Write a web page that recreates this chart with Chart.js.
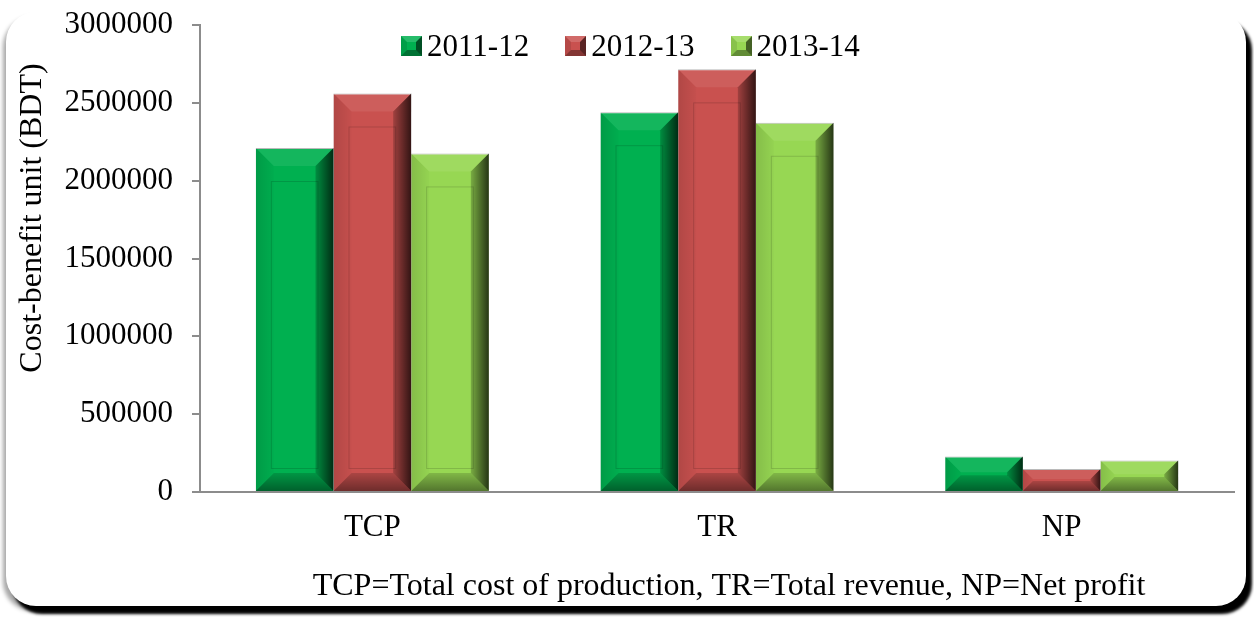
<!DOCTYPE html>
<html>
<head>
<meta charset="utf-8">
<script src="https://cdn.jsdelivr.net/npm/chart.js@4"></script>
<style>
  html, body { margin: 0; padding: 0; background: #fff; }
  body { width: 1254px; height: 618px; position: relative; overflow: hidden; font-family: "Liberation Serif", "Times New Roman", serif; }
  #frame {
    position: absolute; left: 6px; top: 12px; width: 1240px; height: 594px;
    background: #fff; border-radius: 30px;
    box-shadow: -3px 5px 4px rgba(0,0,0,0.35), 6px 8px 3px #000;
  }
  #wrap { position: absolute; left: 0; top: 0; width: 1254px; height: 618px; }
  #legend {
    position: absolute; left: 401px; top: 28px; display: flex; gap: 36px;
    font-size: 31px; line-height: 36px; color: #000;
  }
  .item { display: flex; align-items: center; gap: 5px; }
  .box { width: 9px; height: 8px; border-style: solid; border-width: 6px; }
</style>
</head>
<body>
<div id="frame"></div>
<div id="wrap"><canvas id="chart" width="1254" height="618"></canvas></div>
<div id="legend"></div>
<script>
const categories = ['TCP', 'TR', 'NP'];
const seriesLabels = ['2011-12', '2012-13', '2013-14'];
const values2011 = [2210000, 2440000, 228000];
const values2012 = [2560000, 2715000, 148000];
const values2013 = [2175000, 2372000, 203000];
const seriesColors = ['#00b050', '#c9514f', '#97d753'];
const yMax = 3000000;
const yStep = 500000;
const yTitle = 'Cost-benefit unit (BDT)';
const footNote = 'TCP=Total cost of production, TR=Total revenue, NP=Net profit';

const FONT = '"Liberation Serif", "Times New Roman", serif';

/* ── shade a hex colour ── */
function shade(hex, f) {
  const n = parseInt(hex.slice(1), 16);
  let r = (n >> 16) & 255, g = (n >> 8) & 255, b = n & 255;
  if (f < 0) { r *= 1 + f; g *= 1 + f; b *= 1 + f; }
  else { r += (255 - r) * f; g += (255 - g) * f; b += (255 - b) * f; }
  return 'rgb(' + Math.round(r) + ',' + Math.round(g) + ',' + Math.round(b) + ')';
}

/* ── bevel look on top of each bar ── */
const bevelPlugin = {
  id: 'bevel',
  afterDatasetsDraw(chart) {
    const ctx = chart.ctx;
    chart.data.datasets.forEach((ds, i) => {
      const meta = chart.getDatasetMeta(i);
      meta.data.forEach(bar => {
        const l = bar.x - bar.width / 2, r = bar.x + bar.width / 2;
        const t = bar.y, bt = bar.base;
        const h = bt - t;
        const b = Math.min(18, h / 2.2);
        const poly = (pts, fill) => {
          ctx.beginPath();
          ctx.moveTo(pts[0][0], pts[0][1]);
          for (let k = 1; k < pts.length; k++) ctx.lineTo(pts[k][0], pts[k][1]);
          ctx.closePath();
          ctx.fillStyle = fill;
          ctx.fill();
        };
        ctx.save();
        // top
        poly([[l, t], [r, t], [r - b, t + b], [l + b, t + b]], 'rgba(255,255,255,0.08)');
        // left
        const gl = ctx.createLinearGradient(l, 0, l + b, 0);
        gl.addColorStop(0, 'rgba(0,0,0,0.12)');
        gl.addColorStop(1, 'rgba(0,0,0,0.02)');
        poly([[l, t], [l + b, t + b], [l + b, bt - b], [l, bt]], gl);
        // right
        const gr = ctx.createLinearGradient(r - b, 0, r, 0);
        gr.addColorStop(0, 'rgba(0,0,0,0.2)');
        gr.addColorStop(1, 'rgba(0,0,0,0.75)');
        poly([[r, t], [r, bt], [r - b, bt - b], [r - b, t + b]], gr);
        // bottom
        const gb = ctx.createLinearGradient(0, bt - b, 0, bt);
        gb.addColorStop(0, 'rgba(0,0,0,0.15)');
        gb.addColorStop(1, 'rgba(0,0,0,0.45)');
        poly([[l, bt], [r, bt], [r - b, bt - b], [l + b, bt - b]], gb);
        // faint inner panel lines
        if (h > 80) {
          ctx.strokeStyle = 'rgba(0,0,0,0.14)';
          ctx.lineWidth = 1;
          ctx.strokeRect(l + 15.5, t + 33.5, bar.width - 31, h - 56);
        }
        ctx.restore();
      });
    });
  }
};

/* ── axis title and foot note, placed like the original ── */
const textPlugin = {
  id: 'texts',
  afterDraw(chart) {
    const ctx = chart.ctx;
    ctx.save();
    ctx.fillStyle = '#000';
    ctx.font = '32px ' + FONT;
    ctx.textAlign = 'center';
    ctx.textBaseline = 'middle';
    ctx.translate(33, 218);
    ctx.rotate(-Math.PI / 2);
    ctx.fillText(yTitle, 0, 0);
    ctx.restore();

    ctx.save();
    ctx.fillStyle = '#000';
    ctx.font = '32px ' + FONT;
    ctx.textAlign = 'center';
    ctx.textBaseline = 'middle';
    ctx.fillText(footNote, 729, 587);
    ctx.restore();
  }
};

const seriesValues = [values2011, values2012, values2013];

const chart = new Chart(document.getElementById('chart'), {
  type: 'bar',
  data: {
    labels: categories,
    datasets: seriesLabels.map((lab, i) => ({
      label: lab,
      data: seriesValues[i],
      backgroundColor: seriesColors[i],
      borderColor: 'rgba(150,150,150,0.7)',
      borderWidth: { top: 1, left: 0, right: 0, bottom: 0 },
      categoryPercentage: 0.676,
      barPercentage: 1
    }))
  },
  options: {
    responsive: false,
    animation: false,
    layout: { padding: { top: 25, right: 20, bottom: 0, left: 0 } },
    plugins: {
      legend: { display: false },
      tooltip: { enabled: false }
    },
    scales: {
      x: {
        grid: { display: false, drawTicks: false },
        border: { display: true, color: '#8c8c8c', width: 2 },
        ticks: { color: '#000', font: { family: FONT, size: 31 }, padding: 17 },
        afterFit: s => { s.height = 126; s.paddingLeft = 0; s.paddingRight = 0; }
      },
      y: {
        min: 0,
        max: yMax,
        ticks: {
          stepSize: yStep, color: '#000', font: { family: FONT, size: 31 }, padding: 19,
          callback: v => String(v)
        },
        grid: { drawOnChartArea: false, drawTicks: true, tickLength: 8, color: '#8c8c8c', lineWidth: 2 },
        border: { display: true, color: '#8c8c8c', width: 2 },
        afterFit: s => { s.width = 200; s.paddingTop = 0; s.paddingBottom = 0; }
      }
    }
  },
  plugins: [bevelPlugin, textPlugin]
});

/* ── html legend, drawn over the plot like the original ── */
const legend = document.getElementById('legend');
chart.data.datasets.forEach(ds => {
  const c = ds.backgroundColor;
  const item = document.createElement('div');
  item.className = 'item';
  const box = document.createElement('span');
  box.className = 'box';
  box.style.borderColor = shade(c, 0.15) + ' ' + shade(c, -0.55) + ' ' + shade(c, -0.35) + ' ' + shade(c, -0.1);
  box.style.background = c;
  const txt = document.createElement('span');
  txt.textContent = ds.label;
  item.appendChild(box);
  item.appendChild(txt);
  legend.appendChild(item);
});
</script>
</body>
</html>
